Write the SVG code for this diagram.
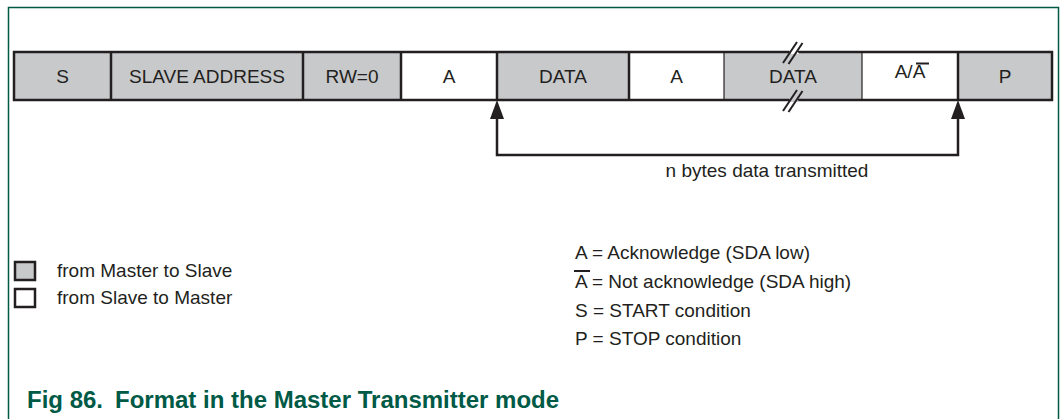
<svg xmlns="http://www.w3.org/2000/svg" width="1063" height="419" viewBox="0 0 1063 419">
<style>
.t{font-family:"Liberation Sans",Arial,sans-serif;font-size:19px;fill:#231f20}
.c{text-anchor:middle}
.g{fill:#c8c9cb}
.w{fill:#ffffff}
.box{stroke:#231f20;stroke-width:2.5}
.thin{stroke:#231f20;stroke-width:1.2}
.sl{stroke:#231f20;stroke-width:2}
.ln{stroke:#231f20;stroke-width:2.5;fill:none}
.cap{font-family:"Liberation Sans",Arial,sans-serif;font-size:24px;font-weight:bold;fill:#005a46}
</style>
<rect width="1063" height="419" fill="#ffffff"/>
<path d="M8.5,419 V7.5 H1058.5 V419" fill="none" stroke="#005a46" stroke-width="1.5"/>
<g id="bar">
<rect x="14" y="52" width="97" height="48" class="g"/>
<rect x="111" y="52" width="192" height="48" class="g"/>
<rect x="303" y="52" width="98" height="48" class="g"/>
<rect x="401" y="52" width="96" height="48" class="w"/>
<rect x="497" y="52" width="132" height="48" class="g"/>
<rect x="629" y="52" width="95" height="48" class="w"/>
<rect x="724" y="52" width="138" height="48" class="g"/>
<rect x="862" y="52" width="96" height="48" class="w"/>
<rect x="958" y="52" width="94" height="48" class="g"/>
<rect x="14" y="52" width="1038" height="48" fill="none" class="box"/>
<line x1="111" y1="52" x2="111" y2="100" class="box"/>
<line x1="303" y1="52" x2="303" y2="100" class="box"/>
<line x1="401" y1="52" x2="401" y2="100" class="box"/>
<line x1="497" y1="52" x2="497" y2="100" class="box"/>
<line x1="629" y1="52" x2="629" y2="100" class="box"/>
<line x1="724" y1="52" x2="724" y2="100" class="thin"/>
<line x1="862" y1="52" x2="862" y2="100" class="thin"/>
<line x1="958" y1="52" x2="958" y2="100" class="box"/>
<polygon points="789,50 797,50 799,54 791,54" fill="#ffffff"/>
<polygon points="789,98 797,98 799,102 791,102" fill="#c8c9cb"/>
<line x1="783" y1="63" x2="797" y2="42" class="sl"/>
<line x1="788.5" y1="64" x2="802.5" y2="43" class="sl"/>
<line x1="783" y1="111" x2="797" y2="90" class="sl"/>
<line x1="788.5" y1="112" x2="802.5" y2="91" class="sl"/>
</g>
<g id="labels">
<text x="62.5" y="83" class="t c">S</text>
<text x="207" y="83" class="t c">SLAVE ADDRESS</text>
<text x="352" y="83" class="t c">RW=0</text>
<text x="449" y="83" class="t c">A</text>
<text x="563" y="83" class="t c">DATA</text>
<text x="676.5" y="83" class="t c">A</text>
<text x="793" y="83" class="t c">DATA</text>
<text x="910" y="78" class="t c">A/A</text>
<line x1="916" y1="63.5" x2="929" y2="63.5" stroke="#231f20" stroke-width="2"/>
<text x="1005" y="83" class="t c">P</text>
</g>
<g id="connectors">
<polyline points="497,118 497,155 958,155 958,118" class="ln"/>
<polygon points="497,100 490,119 504,119" fill="#231f20"/>
<polygon points="958,100 951,119 965,119" fill="#231f20"/>
<text x="767" y="177" class="t c">n bytes data transmitted</text>
</g>
<g id="legend">
<rect x="15" y="262" width="20" height="18" class="g box"/>
<rect x="15" y="289" width="20" height="18" class="w box"/>
<text x="57" y="277" class="t">from Master to Slave</text>
<text x="57" y="304" class="t">from Slave to Master</text>
<text x="575" y="259" class="t">A = Acknowledge (SDA low)</text>
<text x="575" y="288" class="t">A = Not acknowledge (SDA high)</text>
<line x1="574" y1="271" x2="590" y2="271" stroke="#231f20" stroke-width="2"/>
<text x="575" y="317" class="t">S = START condition</text>
<text x="575" y="345" class="t">P = STOP condition</text>
</g>
<g id="caption">
<text x="27" y="408" class="cap">Fig 86.</text>
<text x="115" y="408" class="cap">Format in the Master Transmitter mode</text>
</g>
</svg>
